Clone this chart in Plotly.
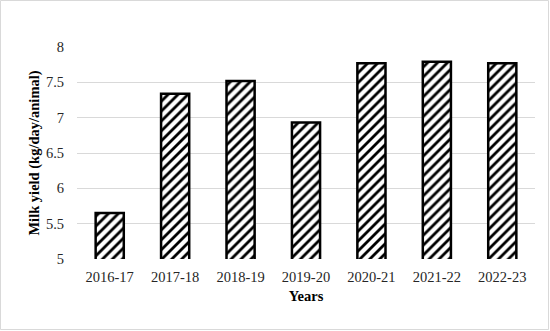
import plotly.graph_objects as go

years = ["2016-17", "2017-18", "2018-19", "2019-20", "2020-21", "2021-22", "2022-23"]
milk_yield = [5.65, 7.34, 7.52, 6.93, 7.77, 7.79, 7.77]

W, H = 550, 331
ml, mr, mt, mb = 77, 15, 47, 72
pw, ph = W - ml - mr, H - mt - mb

fig = go.Figure(go.Bar(
    x=years, y=milk_yield,
    marker=dict(color="white", line=dict(color="black", width=2.5),
                pattern=dict(shape="/", fgcolor="#000000", fgopacity=1, bgcolor="white",
                             fillmode="replace", size=7, solidity=0.4)),
))

fig.update_layout(
    width=W, height=H, margin=dict(l=ml, r=mr, t=mt, b=mb),
    paper_bgcolor="white", plot_bgcolor="white",
    font=dict(family="Liberation Serif", size=14.5, color="#262626"),
    bargap=0.57, showlegend=False,
    xaxis=dict(title=dict(text="<b>Years</b>", font=dict(size=14.5, color="black"), standoff=7),
               showgrid=False, showline=False, ticks="", ticklabelstandoff=7,
               tickfont=dict(size=14.5, color="#262626")),
    yaxis=dict(title=dict(text="<b>Milk yield (kg/day/animal)</b>", font=dict(size=14.5, color="black"), standoff=2),
               range=[5, 8], dtick=0.5, showgrid=True, gridcolor="#d9d9d9", gridwidth=1,
               zeroline=False, showline=False, ticks="", ticklabelstandoff=12,
               tickfont=dict(size=14.5, color="#262626")),
    shapes=[dict(type="rect", xref="paper", yref="paper",
                 x0=-(ml - 0.5) / pw, x1=1 + (mr - 1.5) / pw,
                 y0=-(mb - 1.5) / ph, y1=1 + (mt - 0.5) / ph,
                 line=dict(color="#d9d9d9", width=1), layer="below")],
)
fig.write_html("out.html", config={"displayModeBar": False},
               post_script="document.body.style.margin='0';")
